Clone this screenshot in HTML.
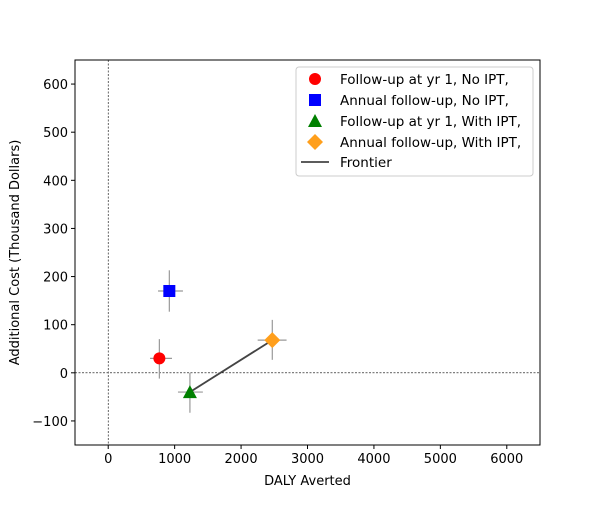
<!DOCTYPE html>
<html><head><meta charset="utf-8"><style>
body{margin:0;background:#fff;font-family:"Liberation Sans","DejaVu Sans",sans-serif}
text{font-family:"DejaVu Sans","Liberation Sans",sans-serif;font-size:13px;fill:#000}
</style></head><body>
<svg id="chart" width="600" height="500"></svg>
<script>
const names=["Follow-up at yr 1, No IPT,","Annual follow-up, No IPT,","Follow-up at yr 1, With IPT,","Annual follow-up, With IPT,"];
const dalyValues=[770,920,1230,2470];
const costValues=[30,170,-40,68];
const dalyLow=[630,750,1050,2250];
const dalyHigh=[960,1125,1425,2685];
const costLow=[-12,127,-83,27];
const costHigh=[70,213,0,110];
const frontierIdx=[2,3];
const xTicks=[0,1000,2000,3000,4000,5000,6000];
const yTicks=[-100,0,100,200,300,400,500,600];
const colors=["#ff0000","#0000ff","#008000","#ff9f1c"];
const shapes=["circle","square","triangle","diamond"];
const L=75,R=540,T=60,B=445,xmin=-500,xmax=6500,ymin=-150,ymax=650;
const X=v=>L+(v-xmin)/(xmax-xmin)*(R-L);
const Y=v=>B-(v-ymin)/(ymax-ymin)*(B-T);
const svg=document.getElementById('chart');
const NS="http://www.w3.org/2000/svg";
function mk(tag,attrs,parent){const e=document.createElementNS(NS,tag);for(const k in attrs)e.setAttribute(k,attrs[k]);(parent||svg).appendChild(e);return e;}
let e=mk('line',{x1:X(0),x2:X(0),y1:T,y2:B,stroke:'#000','stroke-width':0.6,'stroke-dasharray':'2,1.5'});


e=mk('line',{x1:L,x2:R,y1:Y(0),y2:Y(0),stroke:'#000','stroke-width':0.6,'stroke-dasharray':'2,1.5'});


xTicks.forEach(t=>{const x=X(t);mk('line',{x1:x,x2:x,y1:B,y2:B+4,stroke:'#000'});
 e=mk('text',{x:x,y:B+18,'text-anchor':'middle'});e.textContent=t;
 
 });
yTicks.forEach(t=>{const y=Y(t);mk('line',{x1:L-4,x2:L,y1:y,y2:y,stroke:'#000'});
 e=mk('text',{x:L-7,y:y+5,'text-anchor':'end'});e.textContent=t<0?'\u2212'+(-t):t;
 
 });
e=mk('text',{x:(L+R)/2,y:485,'text-anchor':'middle'});e.textContent='DALY Averted';


e=mk('text',{x:0,y:0,'text-anchor':'middle',transform:`translate(19,${(T+B)/2}) rotate(-90)`});e.textContent='Additional Cost (Thousand Dollars)';


e=mk('line',{x1:X(dalyValues[frontierIdx[0]]),y1:Y(costValues[frontierIdx[0]]),x2:X(dalyValues[frontierIdx[1]]),y2:Y(costValues[frontierIdx[1]]),stroke:'#444','stroke-width':1.8});


function marker(shape,cx,cy,color,parent){
 if(shape==='circle')return mk('circle',{cx,cy,r:6,fill:color},parent);
 if(shape==='square')return mk('rect',{x:cx-6,y:cy-6,width:12,height:12,fill:color},parent);
 if(shape==='triangle')return mk('polygon',{points:`${cx},${cy-7} ${cx+7},${cy+6} ${cx-7},${cy+6}`,fill:color},parent);
 return mk('polygon',{points:`${cx},${cy-8} ${cx+8},${cy} ${cx},${cy+8} ${cx-8},${cy}`,fill:color},parent);
}
dalyValues.forEach((d,i)=>{
 const g=mk('g',{});
 
 
 mk('line',{x1:X(dalyLow[i]),x2:X(dalyHigh[i]),y1:Y(costValues[i]),y2:Y(costValues[i]),stroke:'#999','stroke-width':1.2},g);
 mk('line',{x1:X(d),x2:X(d),y1:Y(costLow[i]),y2:Y(costHigh[i]),stroke:'#999','stroke-width':1.2},g);
 marker(shapes[i],X(d),Y(costValues[i]),colors[i],g);
});
e=mk('rect',{x:L,y:T,width:R-L,height:B-T,fill:'none',stroke:'#000','stroke-width':1});


const lg=mk('g',{});


mk('rect',{x:296,y:67,width:237,height:109,fill:'#fff',stroke:'#ccc',rx:3},lg);
names.forEach((n,i)=>{const y=79+i*21;
 marker(shapes[i],315,y,colors[i],lg);
 const t=mk('text',{x:340,y:y+5,style:'font-size:13.5px'},lg);t.textContent=n;
 
 });
mk('line',{x1:301,x2:329,y1:162,y2:162,stroke:'#444','stroke-width':1.8},lg);
e=mk('text',{x:340,y:167,style:'font-size:13.5px'},lg);e.textContent='Frontier';


</script>
</body></html>
